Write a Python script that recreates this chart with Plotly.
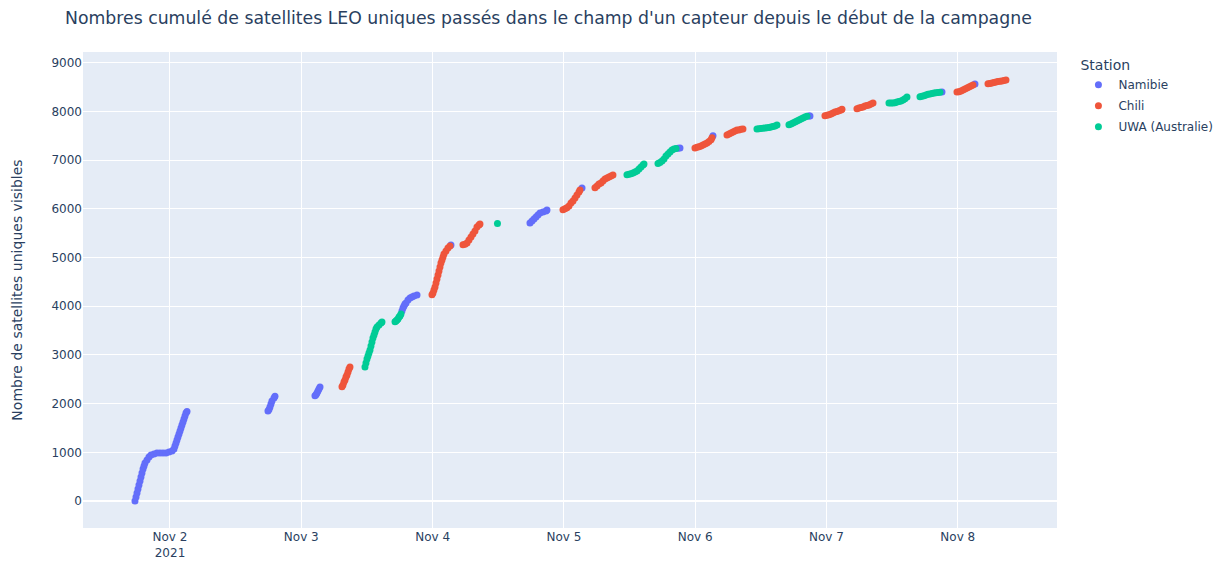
import pandas as pd
import plotly.graph_objects as go

# Hours elapsed since 2021-11-01 00:00 and cumulative unique satellite counts
base = pd.Timestamp("2021-11-01 00:00")

namibie_h = [17.60, 17.79, 17.97, 18.15, 18.33, 18.52, 18.70, 18.88, 19.07, 19.25,
             19.43, 19.80, 20.16, 20.53, 21.08, 21.62, 22.17, 22.72, 23.27, 23.82,
             24.37, 24.73, 24.91, 25.10, 25.28, 25.46, 25.65, 25.83, 26.01, 26.19,
             26.38, 26.56, 26.74, 26.92, 27.11,
             41.91, 42.10, 42.28, 42.46, 42.64, 43.01, 43.19,
             50.50, 50.69, 50.87, 51.05, 51.23, 51.42,
             66.40, 66.59, 66.77, 66.95, 67.14, 67.50, 67.87, 68.23, 68.60, 69.15,
             75.36,
             89.80, 90.17, 90.53, 90.90, 91.26, 91.63, 92.18, 92.73, 92.91,
             99.31,
             116.85, 117.22,
             123.25,
             140.80, 140.98,
             165.11,
             171.14]
namibie_n = [0, 82, 164, 246, 328, 411, 493, 575, 657, 719,
             780, 842, 903, 944, 965, 985, 985, 985, 985, 1006,
             1027, 1068, 1129, 1191, 1252, 1314, 1376, 1437, 1499, 1560,
             1622, 1683, 1745, 1807, 1840,
             1850, 1880, 1930, 1991, 2053, 2115, 2150,
             2160, 2180, 2217, 2258, 2299, 2340,
             3901, 3962, 4003, 4044, 4065, 4127, 4168, 4188, 4209, 4229,
             5256,
             5707, 5748, 5789, 5831, 5872, 5913, 5933, 5954, 5974,
             6426,
             7244, 7247,
             7500,
             7904, 7908,
             8397,
             8565]

chili_h = [55.44, 55.62, 55.80, 55.99, 56.17, 56.35, 56.54, 56.72, 56.90,
           71.89, 72.07, 72.25, 72.44, 72.62, 72.80, 72.99, 73.17, 73.35, 73.53,
           73.72, 73.90, 74.08, 74.45, 74.81, 75.18,
           77.55, 77.92, 78.29, 78.65, 79.02, 79.38, 79.75, 80.11, 80.48, 80.66,
           95.83, 96.20, 96.56, 96.93, 97.30, 97.66, 98.03, 98.39, 98.76, 98.94,
           101.68, 102.05, 102.41, 102.78, 103.14, 103.51, 103.88, 104.24, 104.61, 104.97,
           119.96, 120.33, 120.69, 121.06, 121.42, 121.79, 122.16, 122.52, 122.89, 123.07,
           125.81, 126.18, 126.54, 126.91, 127.27, 127.64, 128.00, 128.37, 128.73,
           143.72, 144.09, 144.45, 144.82, 145.18, 145.55, 145.91, 146.28, 146.65, 146.83,
           149.57, 149.94, 150.30, 150.67, 151.03, 151.40, 151.76, 152.13, 152.50,
           167.85, 168.21, 168.58, 168.95, 169.31, 169.68, 170.04, 170.41, 170.77,
           173.52, 173.88, 174.25, 174.61, 174.98, 175.34, 175.71, 176.07, 176.44, 176.81]
chili_n = [2345, 2381, 2443, 2484, 2546, 2587, 2648, 2710, 2751,
           4235, 4270, 4332, 4393, 4476, 4558, 4640, 4722, 4804, 4886,
           4948, 5009, 5071, 5133, 5194, 5235,
           5260, 5270, 5297, 5358, 5420, 5481, 5543, 5625, 5666, 5687,
           5980, 6000, 6020, 6056, 6118, 6159, 6221, 6282, 6344, 6385,
           6430, 6467, 6508, 6529, 6570, 6611, 6631, 6652, 6672, 6693,
           7250, 7262, 7275, 7290, 7309, 7329, 7350, 7380, 7420, 7460,
           7514, 7534, 7555, 7575, 7596, 7617, 7620, 7632, 7637,
           7910, 7920, 7930, 7945, 7966, 7986, 8000, 8015, 8030, 8045,
           8055, 8068, 8078, 8089, 8109, 8120, 8130, 8150, 8171,
           8400, 8405, 8417, 8438, 8458, 8479, 8499, 8520, 8540,
           8570, 8575, 8581, 8592, 8602, 8612, 8620, 8625, 8633, 8643]

uwa_h = [59.64, 59.82, 60.01, 60.19, 60.37, 60.56, 60.74, 60.92, 61.10, 61.29,
         61.47, 61.65, 61.84, 62.20, 62.57, 62.75,
         65.13, 65.31, 65.49, 65.67, 65.86, 66.04, 66.22,
         83.86,
         107.53, 107.90, 108.26, 108.63, 109.00, 109.36, 109.73, 110.09, 110.46, 110.64,
         113.20, 113.56, 113.93, 114.30, 114.66, 115.03, 115.39, 115.76, 116.12, 116.49,
         131.29, 131.66, 132.02, 132.39, 132.76, 133.12, 133.49, 133.85, 134.22, 134.58, 134.95,
         137.14, 137.51, 137.87, 138.24, 138.60, 138.97, 139.33, 139.70, 140.07, 140.43,
         155.42, 155.79, 156.15, 156.52, 156.88, 157.25, 157.61, 157.98, 158.34, 158.71,
         161.09, 161.45, 161.82, 162.18, 162.55, 162.91, 163.28, 163.65, 164.01, 164.38, 164.74]
uwa_n = [2751, 2833, 2915, 2977, 3038, 3100, 3182, 3264, 3346, 3408,
         3470, 3531, 3572, 3613, 3654, 3675,
         3680, 3695, 3716, 3736, 3778, 3798, 3839,
         5701,
         6700, 6710, 6720, 6734, 6754, 6775, 6816, 6857, 6898, 6919,
         6930, 6950, 6980, 7021, 7083, 7124, 7165, 7206, 7227, 7240,
         7640, 7645, 7650, 7655, 7660, 7665, 7670, 7680, 7690, 7699, 7719,
         7725, 7740, 7760, 7781, 7801, 7822, 7843, 7863, 7884, 7900,
         8171, 8171, 8175, 8180, 8191, 8205, 8212, 8232, 8260, 8294,
         8300, 8310, 8320, 8335, 8350, 8360, 8370, 8378, 8385, 8390, 8395]

stations = ["Namibie", "Chili", "UWA (Australie)"]
colors = ["#636efa", "#EF553B", "#00cc96"]
series = [(namibie_h, namibie_n), (chili_h, chili_n), (uwa_h, uwa_n)]

fig = go.Figure()
for name, color, (hrs, cnt) in zip(stations, colors, series):
    times = [base + pd.Timedelta(hours=h) for h in hrs]
    fig.add_trace(go.Scatter(
        x=times, y=cnt, mode="markers", name=name, legendgroup=name,
        marker=dict(color=color, size=7),
    ))

fig.update_layout(
    width=1228, height=561,
    font=dict(family="DejaVu Sans"),
    margin=dict(l=75, r=179, t=44, b=41),
    title=dict(
        text="Nombres cumulé de satellites LEO uniques passés dans le champ d'un capteur depuis le début de la campagne",
        x=0.0464, xanchor="left", y=0.982, yanchor="middle",
        font=dict(size=17.3),
    ),
    legend=dict(title=dict(text="Station"), x=1.022, tracegroupgap=2),
    xaxis=dict(range=["2021-11-01 08:06", "2021-11-08 18:08"], automargin=False),
    yaxis=dict(range=[-554, 9220], automargin=False,
               title=dict(text="Nombre de satellites uniques visibles", standoff=25)),
)

fig.write_html("out.html")
